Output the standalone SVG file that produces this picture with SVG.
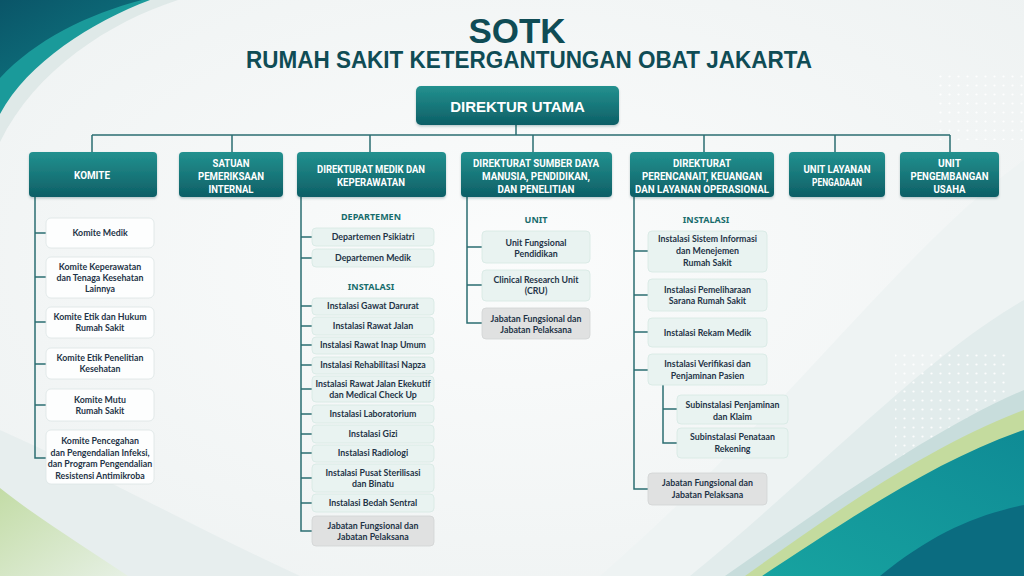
<svg xmlns="http://www.w3.org/2000/svg" width="1024" height="576" viewBox="0 0 1024 576">
<defs>
<linearGradient id="hdr" x1="0" y1="0" x2="0" y2="1">
<stop offset="0" stop-color="#23918f"/>
<stop offset="1" stop-color="#0d5f66"/>
</linearGradient>
<linearGradient id="tlDark" x1="0" y1="0" x2="1" y2="1">
<stop offset="0" stop-color="#0a5568"/>
<stop offset="1" stop-color="#0f7b84"/>
</linearGradient>
<linearGradient id="brTeal" x1="0" y1="1" x2="1" y2="0">
<stop offset="0" stop-color="#17a3a0"/>
<stop offset="1" stop-color="#0f8b95"/>
</linearGradient>
<linearGradient id="blGreen" x1="0" y1="0" x2="1" y2="1">
<stop offset="0" stop-color="#c3dca6"/>
<stop offset="1" stop-color="#e6f0e4"/>
</linearGradient>
<radialGradient id="bg" cx="0.5" cy="0.45" r="0.7">
<stop offset="0" stop-color="#fbfcfc"/>
<stop offset="1" stop-color="#eef2f2"/>
</radialGradient>
<pattern id="dots" width="9" height="9" patternUnits="userSpaceOnUse">
<circle cx="4.5" cy="4.5" r="1.1" fill="#ffffff"/>
</pattern>
<filter id="sh" x="-10%" y="-10%" width="120%" height="140%">
<feDropShadow dx="0" dy="1.5" stdDeviation="1.2" flood-color="#0b3f45" flood-opacity="0.25"/>
</filter>
</defs>
<style>
.hb{fill:url(#hdr);filter:url(#sh)}
.ht{font-family:Roboto,"Liberation Sans",sans-serif;font-weight:bold;font-size:10.5px;fill:#ffffff;text-anchor:middle}
.wb{fill:#fdfefe;stroke:#dce4e4;stroke-width:0.8}
.mb{fill:#e9f3f1;stroke:#d6e8e3;stroke-width:0.8}
.gb{fill:#e0e1e1;stroke:#d2d4d4;stroke-width:0.8}
.ct{font-family:Lato,"Noto Sans","Liberation Sans",sans-serif;font-weight:bold;font-size:8.8px;fill:#1f3447;text-anchor:middle}
.sec{font-family:"Noto Sans","Liberation Sans",sans-serif;font-weight:bold;font-size:9px;fill:#176c6c;text-anchor:middle}
.ln{fill:none;stroke:#2b6d71;stroke-width:1.5}
</style>

<g id="background">
<rect width="1024" height="576" fill="url(#bg)"/>
<path d="M0,0 H178 C110,22 35,70 0,142 Z" fill="#dfe9e8"/>
<path d="M0,0 H150 C92,22 28,62 0,114 Z" fill="#1a9a9a"/>
<path d="M0,0 H142 C88,14 35,40 0,78 Z" fill="url(#tlDark)"/>
<path d="M0,430 C90,470 200,530 300,576 H0 Z" fill="#e7eeee"/>
<path d="M0,488 C40,520 90,550 128,576 H0 Z" fill="url(#blGreen)"/>
<path d="M1024,160 C900,250 780,420 600,576 H1024 Z" fill="#eef3f3"/>
<path d="M1024,300 C920,360 820,470 690,576 H1024 Z" fill="#e2ecec"/>
<rect x="895" y="350" width="115" height="120" fill="url(#dots)" opacity="0.9"/>
<rect x="935" y="70" width="89" height="70" fill="url(#dots)" opacity="0.9"/>
<path d="M1024,390 C930,430 820,510 725,576 H1024 Z" fill="#c8dddc"/>
<path d="M1024,410 C930,445 830,515 745,576 H1024 Z" fill="#c4db9e"/>
<path d="M1024,430 C935,460 840,525 762,576 H1024 Z" fill="url(#brTeal)"/>
<path d="M880,576 C930,535 975,515 1024,505 V576 Z" fill="#0b6c80"/>
</g>

<g id="title">
<text x="517" y="43" text-anchor="middle" font-family="'Liberation Sans',Arial,sans-serif" font-weight="bold" font-size="35" fill="#0f4c55">SOTK</text>
<text x="529" y="68" text-anchor="middle" font-family="'Liberation Sans',Arial,sans-serif" font-weight="bold" font-size="23" fill="#0f4c55" textLength="566" lengthAdjust="spacingAndGlyphs">RUMAH SAKIT KETERGANTUNGAN OBAT JAKARTA</text>
</g>

<g id="connectors">
<path class="ln" d="M516,125 V135 M92,135 H950 M92,135 V152 M232,135 V152 M370,135 V152 M533,135 V152 M704,135 V152 M835,135 V152 M950,135 V152"/>
<path class="ln" d="M35,197 V458 H46 M35,233 H46 M35,277 H46 M35,322 H46 M35,364 H46 M35,405 H46"/>
<path class="ln" d="M301,197 V531 H312 M301,237 H312 M301,258 H312 M301,306 H312 M301,326 H312 M301,345 H312 M301,365 H312 M301,389 H312 M301,414 H312 M301,434 H312 M301,453 H312 M301,478 H312 M301,503 H312"/>
<path class="ln" d="M467,197 V323 H482 M467,247 H482 M467,285 H482"/>
<path class="ln" d="M634,197 V489 H648 M634,251 H648 M634,295 H648 M634,332 H648 M634,370 H648"/>
<path class="ln" d="M663,385 V443 H677 M663,409 H677"/>
</g>

<g id="direktur-utama">
<rect class="hb" x="416" y="86" width="203" height="39" rx="5"/>
<text x="517.5" y="112" text-anchor="middle" font-family="'Liberation Sans',Arial,sans-serif" font-weight="bold" font-size="15" fill="#ffffff">DIREKTUR UTAMA</text>
</g>

<g id="komite">
<rect class="hb" x="29" y="152" width="128" height="45" rx="4"/>
<text class="ht" x="92" y="179" textLength="36" lengthAdjust="spacingAndGlyphs">KOMITE</text>
</g>
<g id="satuan-pemeriksaan-internal">
<rect class="hb" x="179" y="152" width="104" height="45" rx="4"/>
<text class="ht" x="231" y="167" textLength="37" lengthAdjust="spacingAndGlyphs">SATUAN</text>
<text class="ht" x="231" y="180" textLength="66" lengthAdjust="spacingAndGlyphs">PEMERIKSAAN</text>
<text class="ht" x="231" y="193" textLength="45" lengthAdjust="spacingAndGlyphs">INTERNAL</text>
</g>
<g id="direkturat-medik">
<rect class="hb" x="297" y="152" width="149" height="45" rx="4"/>
<text class="ht" x="371" y="173" textLength="108" lengthAdjust="spacingAndGlyphs">DIREKTURAT MEDIK DAN</text>
<text class="ht" x="371" y="186" textLength="68" lengthAdjust="spacingAndGlyphs">KEPERAWATAN</text>
</g>
<g id="direkturat-sdm">
<rect class="hb" x="461" y="152" width="151" height="45" rx="4"/>
<text class="ht" x="536" y="167" textLength="126" lengthAdjust="spacingAndGlyphs">DIREKTURAT SUMBER DAYA</text>
<text class="ht" x="536" y="180" textLength="108" lengthAdjust="spacingAndGlyphs">MANUSIA, PENDIDIKAN,</text>
<text class="ht" x="536" y="193" textLength="77" lengthAdjust="spacingAndGlyphs">DAN PENELITIAN</text>
</g>
<g id="direkturat-perencanaan">
<rect class="hb" x="630" y="152" width="144" height="45" rx="4"/>
<text class="ht" x="702" y="167" textLength="58" lengthAdjust="spacingAndGlyphs">DIREKTURAT</text>
<text class="ht" x="702" y="180" textLength="120" lengthAdjust="spacingAndGlyphs">PERENCANAIT, KEUANGAN</text>
<text class="ht" x="702" y="193" textLength="134" lengthAdjust="spacingAndGlyphs">DAN LAYANAN OPERASIONAL</text>
</g>
<g id="unit-layanan-pengadaan">
<rect class="hb" x="789" y="152" width="96" height="45" rx="4"/>
<text class="ht" x="837" y="173" textLength="67" lengthAdjust="spacingAndGlyphs">UNIT LAYANAN</text>
<text class="ht" x="837" y="186" textLength="50" lengthAdjust="spacingAndGlyphs">PENGADAAN</text>
</g>
<g id="unit-pengembangan-usaha">
<rect class="hb" x="900" y="152" width="99" height="45" rx="4"/>
<text class="ht" x="949.5" y="167" textLength="23" lengthAdjust="spacingAndGlyphs">UNIT</text>
<text class="ht" x="949.5" y="180" textLength="78" lengthAdjust="spacingAndGlyphs">PENGEMBANGAN</text>
<text class="ht" x="949.5" y="193" textLength="32" lengthAdjust="spacingAndGlyphs">USAHA</text>
</g>

<g id="komite-medik"><rect class="wb" x="46" y="218" width="108" height="30" rx="5"/><text class="ct" x="100" y="236">Komite Medik</text></g>
<g id="komite-keperawatan"><rect class="wb" x="46" y="257" width="108" height="41" rx="5"/><text class="ct" x="100" y="269.5">Komite Keperawatan</text><text class="ct" x="100" y="280.5">dan Tenaga Kesehatan</text><text class="ct" x="100" y="291.5">Lainnya</text></g>
<g id="komite-etik-hukum"><rect class="wb" x="46" y="307" width="108" height="31" rx="5"/><text class="ct" x="100" y="320">Komite Etik dan Hukum</text><text class="ct" x="100" y="331">Rumah Sakit</text></g>
<g id="komite-etik-penelitian"><rect class="wb" x="46" y="348" width="108" height="31" rx="5"/><text class="ct" x="100" y="361">Komite Etik Penelitian</text><text class="ct" x="100" y="372">Kesehatan</text></g>
<g id="komite-mutu"><rect class="wb" x="46" y="389" width="108" height="32" rx="5"/><text class="ct" x="100" y="402.5">Komite Mutu</text><text class="ct" x="100" y="413.5">Rumah Sakit</text></g>
<g id="komite-pencegahan"><rect class="wb" x="46" y="430" width="108" height="54" rx="5"/><text class="ct" x="100" y="444">Komite Pencegahan</text><text class="ct" x="100" y="455.5">dan Pengendalian Infeksi,</text><text class="ct" x="100" y="467">dan Program Pengendalian</text><text class="ct" x="100" y="478.5">Resistensi Antimikroba</text></g>

<g id="medik-sections"><text class="sec" x="371" y="220">DEPARTEMEN</text><text class="sec" x="371" y="290">INSTALASI</text></g>
<g id="dept-psikiatri"><rect class="mb" x="312" y="228" width="122" height="18" rx="4"/><text class="ct" x="373" y="240">Departemen Psikiatri</text></g>
<g id="dept-medik"><rect class="mb" x="312" y="249" width="122" height="18" rx="4"/><text class="ct" x="373" y="261">Departemen Medik</text></g>
<g id="inst-gawat-darurat"><rect class="mb" x="312" y="298" width="122" height="17" rx="4"/><text class="ct" x="373" y="309">Instalasi Gawat Darurat</text></g>
<g id="inst-rawat-jalan"><rect class="mb" x="312" y="317" width="122" height="18" rx="4"/><text class="ct" x="373" y="329">Instalasi Rawat Jalan</text></g>
<g id="inst-rawat-inap"><rect class="mb" x="312" y="337" width="122" height="17" rx="4"/><text class="ct" x="373" y="348">Instalasi Rawat Inap Umum</text></g>
<g id="inst-rehabilitasi"><rect class="mb" x="312" y="357" width="122" height="17" rx="4"/><text class="ct" x="373" y="368">Instalasi Rehabilitasi Napza</text></g>
<g id="inst-rawat-jalan-eksekutif"><rect class="mb" x="312" y="376" width="122" height="26" rx="4"/><text class="ct" x="373" y="386.5">Instalasi Rawat Jalan Ekekutif</text><text class="ct" x="373" y="397.5">dan Medical Check Up</text></g>
<g id="inst-laboratorium"><rect class="mb" x="312" y="405" width="122" height="18" rx="4"/><text class="ct" x="373" y="417">Instalasi Laboratorium</text></g>
<g id="inst-gizi"><rect class="mb" x="312" y="425" width="122" height="18" rx="4"/><text class="ct" x="373" y="437">Instalasi Gizi</text></g>
<g id="inst-radiologi"><rect class="mb" x="312" y="445" width="122" height="17" rx="4"/><text class="ct" x="373" y="456">Instalasi Radiologi</text></g>
<g id="inst-sterilisasi"><rect class="mb" x="312" y="464" width="122" height="28" rx="4"/><text class="ct" x="373" y="475.5">Instalasi Pusat Sterilisasi</text><text class="ct" x="373" y="487">dan Binatu</text></g>
<g id="inst-bedah-sentral"><rect class="mb" x="312" y="494" width="122" height="18" rx="4"/><text class="ct" x="373" y="506">Instalasi Bedah Sentral</text></g>
<g id="medik-jabatan"><rect class="gb" x="312" y="516" width="122" height="30" rx="4"/><text class="ct" x="373" y="528.5">Jabatan Fungsional dan</text><text class="ct" x="373" y="539.5">Jabatan Pelaksana</text></g>

<g id="sdm-section"><text class="sec" x="536" y="223">UNIT</text></g>
<g id="unit-fungsional-pendidikan"><rect class="mb" x="482" y="231" width="108" height="32" rx="4"/><text class="ct" x="536" y="245.5">Unit Fungsional</text><text class="ct" x="536" y="256.5">Pendidikan</text></g>
<g id="clinical-research-unit"><rect class="mb" x="482" y="270" width="108" height="31" rx="4"/><text class="ct" x="536" y="283">Clinical Research Unit</text><text class="ct" x="536" y="294">(CRU)</text></g>
<g id="sdm-jabatan"><rect class="gb" x="482" y="308" width="108" height="31" rx="4"/><text class="ct" x="536" y="321.5">Jabatan Fungsional dan</text><text class="ct" x="536" y="332.5">Jabatan Pelaksana</text></g>

<g id="perencanaan-section"><text class="sec" x="706" y="223">INSTALASI</text></g>
<g id="inst-sistem-informasi"><rect class="mb" x="648" y="231" width="119" height="41" rx="4"/><text class="ct" x="707.5" y="242">Instalasi Sistem Informasi</text><text class="ct" x="707.5" y="254">dan Menejemen</text><text class="ct" x="707.5" y="265.5">Rumah Sakit</text></g>
<g id="inst-pemeliharaan"><rect class="mb" x="648" y="279" width="119" height="32" rx="4"/><text class="ct" x="707.5" y="293">Instalasi Pemeliharaan</text><text class="ct" x="707.5" y="304">Sarana Rumah Sakit</text></g>
<g id="inst-rekam-medik"><rect class="mb" x="648" y="318" width="119" height="29" rx="4"/><text class="ct" x="707.5" y="335.5">Instalasi Rekam Medik</text></g>
<g id="inst-verifikasi"><rect class="mb" x="648" y="354" width="119" height="31" rx="4"/><text class="ct" x="707.5" y="367">Instalasi Verifikasi dan</text><text class="ct" x="707.5" y="379">Penjaminan Pasien</text></g>
<g id="sub-penjaminan"><rect class="mb" x="677" y="395" width="111" height="29" rx="4"/><text class="ct" x="732.5" y="408">Subinstalasi Penjaminan</text><text class="ct" x="732.5" y="420">dan Klaim</text></g>
<g id="sub-penataan"><rect class="mb" x="677" y="428" width="111" height="30" rx="4"/><text class="ct" x="732.5" y="440">Subinstalasi Penataan</text><text class="ct" x="732.5" y="452">Rekening</text></g>
<g id="perencanaan-jabatan"><rect class="gb" x="648" y="473" width="119" height="32" rx="4"/><text class="ct" x="707.5" y="486">Jabatan Fungsional dan</text><text class="ct" x="707.5" y="498">Jabatan Pelaksana</text></g>
</svg>
